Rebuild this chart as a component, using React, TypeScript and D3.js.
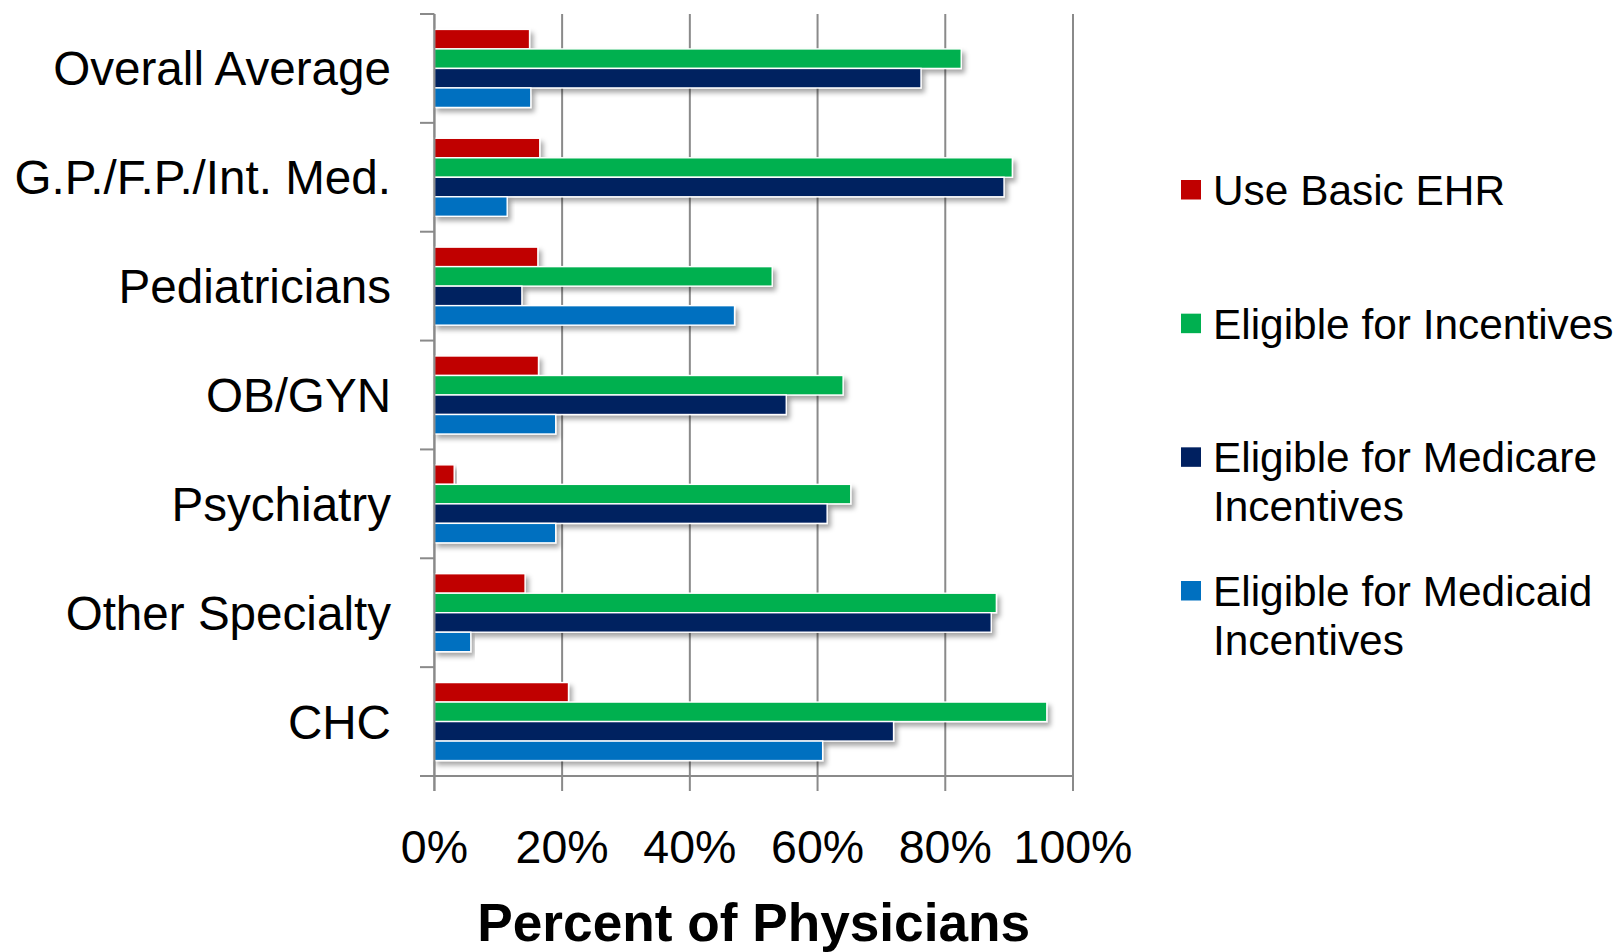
import React from "react";
import * as d3 from "d3";

const categories = [
  "Overall Average",
  "G.P./F.P./Int. Med.",
  "Pediatricians",
  "OB/GYN",
  "Psychiatry",
  "Other Specialty",
  "CHC",
];
const useBasicEHR = [14.9, 16.5, 16.2, 16.3, 3.1, 14.2, 21.0];
const eligibleIncentives = [82.5, 90.5, 52.9, 64.0, 65.2, 88.0, 95.9];
const eligibleMedicare = [76.2, 89.2, 13.7, 55.1, 61.5, 87.2, 71.9];
const eligibleMedicaid = [15.1, 11.4, 47.0, 19.0, 19.0, 5.7, 60.8];

const seriesNames = [
  "Use Basic EHR",
  "Eligible for Incentives",
  "Eligible for Medicare Incentives",
  "Eligible for Medicaid Incentives",
];
const legendLines = [
  ["Use Basic EHR"],
  ["Eligible for Incentives"],
  ["Eligible for Medicare", "Incentives"],
  ["Eligible for Medicaid", "Incentives"],
];
const seriesColors = ["#C00000", "#00B050", "#002060", "#0070C0"];
const seriesValues = [useBasicEHR, eligibleIncentives, eligibleMedicare, eligibleMedicaid];
const xTicks = [0, 20, 40, 60, 80, 100];

const W = 1618;
const H = 952;
const FONT = "'Liberation Sans', Arial, Helvetica, sans-serif";

export default function App() {
  const x = d3.scaleLinear().domain([0, 100]).range([434.4, 1073]);
  const y = d3.scaleBand<string>().domain(categories).range([14, 776]).paddingInner(0).paddingOuter(0);
  const inner = d3
    .scaleBand<string>()
    .domain(seriesNames)
    .range([0, y.bandwidth()])
    .paddingInner(0)
    .paddingOuter(0.79);
  const legendY = d3.scaleLinear().domain([0, 3]).range([205, 606]);
  const plotTop = 14;
  const plotBottom = 776;

  return (
    <svg
      width={W}
      height={H}
      style={{ position: "absolute", left: 0, top: 0, background: "#fff" }}
      fontFamily={FONT}
    >
      <defs>
        <filter id="shadow" x="-5%" y="-30%" width="115%" height="190%">
          <feDropShadow dx="3" dy="4" stdDeviation="2.5" floodColor="#000" floodOpacity="0.35" />
        </filter>
      </defs>
      <rect x={0} y={0} width={W} height={H} fill="#fff" />

      {/* gridlines */}
      {xTicks.map((t) => (
        <line
          key={"g" + t}
          x1={x(t)}
          x2={x(t)}
          y1={plotTop}
          y2={plotBottom + 15}
          stroke="#8a8a8a"
          strokeWidth={2}
        />
      ))}

      {/* bars */}
      {categories.map((c, ci) => (
        <g key={c}>
          {seriesNames.map((s, si) => {
            const v = seriesValues[si][ci];
            const y0 = (y(c) as number) + (inner(s) as number);
            return (
              <rect
                key={s}
                x={x(0)}
                y={y0}
                width={x(v) - x(0)}
                height={inner.bandwidth()}
                fill={seriesColors[si]}
                stroke="#fff"
                strokeWidth={1.4}
                filter="url(#shadow)"
              />
            );
          })}
        </g>
      ))}

      {/* y axis */}
      <line x1={x(0)} x2={x(0)} y1={plotTop} y2={plotBottom + 15} stroke="#8a8a8a" strokeWidth={2} />
      {categories.map((c) => (
        <line
          key={"t" + c}
          x1={420}
          x2={x(0)}
          y1={y(c) as number}
          y2={y(c) as number}
          stroke="#8a8a8a"
          strokeWidth={2}
        />
      ))}
      {/* x axis */}
      <line x1={420} x2={x(100)} y1={plotBottom} y2={plotBottom} stroke="#8a8a8a" strokeWidth={2} />

      {/* category labels */}
      {categories.map((c) => (
        <text
          key={"l" + c}
          x={391}
          y={(y(c) as number) + y.bandwidth() / 2 + 17}
          textAnchor="end"
          fontSize={47.6}
          fill="#000"
        >
          {c}
        </text>
      ))}

      {/* x tick labels */}
      {xTicks.map((t) => (
        <text key={"xl" + t} x={x(t)} y={863} textAnchor="middle" fontSize={46.5} fill="#000">
          {t + "%"}
        </text>
      ))}

      <text
        x={(x(0) + x(100)) / 2}
        y={941}
        textAnchor="middle"
        fontSize={53.2}
        fontWeight="bold"
        fill="#000"
      >
        Percent of Physicians
      </text>

      {/* legend */}
      {legendLines.map((lines, i) => {
        const base = legendY(i);
        return (
          <g key={"leg" + i}>
            <rect x={1181} y={base - 25} width={20} height={19.5} fill={seriesColors[i]} />
            {lines.map((ln, li) => (
              <text key={li} x={1213} y={base + li * 49} fontSize={42.4} fill="#000">
                {ln}
              </text>
            ))}
          </g>
        );
      })}
    </svg>
  );
}
